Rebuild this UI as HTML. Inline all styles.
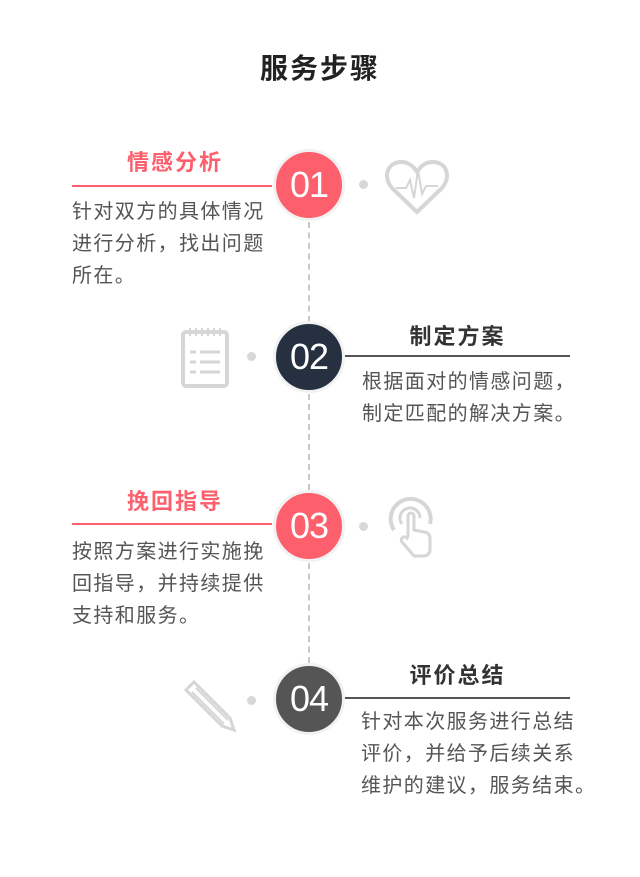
<!DOCTYPE html>
<html><head><meta charset="utf-8"><style>
body{margin:0;width:640px;height:877px;background:#fff;position:relative;overflow:hidden;font-family:"Liberation Sans","Noto Sans CJK SC",sans-serif}
.a{position:absolute}
.h{left:0;width:640px;top:51px;text-align:center;font-size:28px;letter-spacing:2px;font-weight:bold;color:#222;line-height:36px}
.t{font-size:22px;font-weight:bold;line-height:30px;text-align:center;letter-spacing:2px}
.r{color:#fd5f6c}.k{color:#333}
.ln{height:1.5px}
.b{font-size:20px;letter-spacing:1.4px;color:#555;line-height:32px;white-space:nowrap}
.c{width:66px;height:66px;border-radius:50%;border:3px solid #f2f2f2;color:#fff;font-size:36px;text-align:center;line-height:66px;letter-spacing:-1px}
.d{width:9px;height:9px;border-radius:50%;background:#d8d8d8}
.dash{left:308px;width:0;border-left:2px dashed #c8c8c8}
</style></head><body>
<div class="a h">服务步骤</div>
<div class="a dash" style="top:222px;height:100px"></div>
<div class="a dash" style="top:394px;height:96px"></div>
<div class="a dash" style="top:563px;height:100px"></div>

<div class="a t r" style="left:72px;width:206px;top:148px">情感分析</div>
<div class="a ln" style="left:72px;width:200px;top:185px;background:#fd5f6c"></div>
<div class="a b" style="left:72px;top:196px">针对双方的具体情况<br>进行分析，找出问题<br>所在。</div>
<div class="a c" style="left:273px;top:149px;background:#fd5f6c">01</div>
<div class="a d" style="left:359px;top:180px"></div>
<svg class="a" style="left:384px;top:158px" width="66" height="58" viewBox="0 0 66 58"><path d="M33 54 L8 30 C-2 18 4 4 17 4 C25 4 30 9 33 14 C36 9 41 4 49 4 C62 4 68 18 58 30 Z" fill="none" stroke="#d6d6d6" stroke-width="4"/><path d="M12 30 H22 L26 22 L30 40 L34 12 L38 36 L42 28 H54" fill="none" stroke="#d6d6d6" stroke-width="2"/></svg>

<div class="a t k" style="left:345px;width:225px;top:322px">制定方案</div>
<div class="a ln" style="left:345px;width:225px;top:355px;background:#555"></div>
<div class="a b" style="left:362px;top:366px">根据面对的情感问题，<br>制定匹配的解决方案。</div>
<div class="a c" style="left:273px;top:321px;background:#263040">02</div>
<div class="a d" style="left:247px;top:352px"></div>
<svg class="a" style="left:180px;top:324px" width="52" height="66" viewBox="0 0 52 66"><rect x="3" y="8" width="44" height="54" rx="3" fill="none" stroke="#d6d6d6" stroke-width="4"/><path d="M10 4v8M16 4v8M22 4v8M28 4v8M34 4v8M40 4v8" stroke="#d6d6d6" stroke-width="2"/><path d="M10 28h6M20 28h20M10 38h6M20 38h20M10 48h6M20 48h20" stroke="#d6d6d6" stroke-width="3"/></svg>

<div class="a t r" style="left:72px;width:206px;top:487px">挽回指导</div>
<div class="a ln" style="left:72px;width:200px;top:523px;background:#fd5f6c"></div>
<div class="a b" style="left:72px;top:536px">按照方案进行实施挽<br>回指导，并持续提供<br>支持和服务。</div>
<div class="a c" style="left:273px;top:490px;background:#fd5f6c">03</div>
<div class="a d" style="left:359px;top:522px"></div>
<svg class="a" style="left:386px;top:494px" width="52" height="64" viewBox="0 0 52 64"><path d="M8 36 A20 20 0 1 1 44 30" fill="none" stroke="#d6d6d6" stroke-width="4"/><path d="M16 30 A10 10 0 1 1 34 24" fill="none" stroke="#d6d6d6" stroke-width="3"/><path d="M22 42 V22 a3 3 0 0 1 6 0 V36 l10 2 a6 6 0 0 1 6 6 V56 a6 6 0 0 1 -6 6 H28 L16 48 a3 3 0 0 1 5 -4 Z" fill="#fff" stroke="#d6d6d6" stroke-width="3"/></svg>

<div class="a t k" style="left:345px;width:225px;top:661px">评价总结</div>
<div class="a ln" style="left:345px;width:225px;top:697px;background:#555"></div>
<div class="a b" style="left:361px;top:706px">针对本次服务进行总结<br>评价，并给予后续关系<br>维护的建议，服务结束。</div>
<div class="a c" style="left:273px;top:663px;background:#555">04</div>
<div class="a d" style="left:247px;top:696px"></div>
<svg class="a" style="left:182px;top:678px" width="56" height="56" viewBox="0 0 56 56"><path d="M4 12 L12 4 L48 40 L52 52 L40 48 Z" fill="none" stroke="#d6d6d6" stroke-width="3"/><path d="M10 14 L42 46 M14 10 L46 42" stroke="#d6d6d6" stroke-width="2"/></svg>
</body></html>
